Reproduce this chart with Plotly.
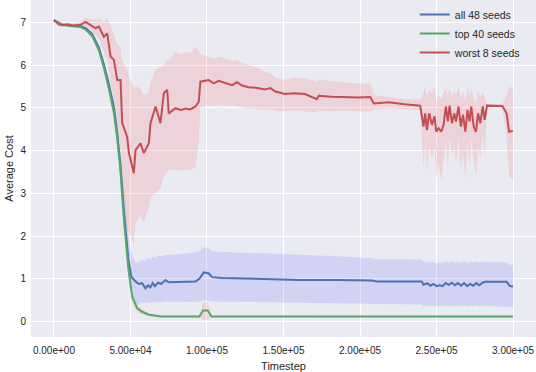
import plotly.graph_objects as go

# ── data (timesteps in thousands) ─────────────────────────────────────────────
red_x = [0, 3, 6, 9, 12, 15, 17.4, 20.7, 24, 27.2, 29.4, 32.6, 34.8, 37, 39.2, 41.3,
         43.5, 44.6, 47.8, 49, 52.2, 53.3, 56.6, 58.7, 62, 63.1, 66.4, 69.6, 71.8, 74,
         75, 79.4, 83, 86, 89, 92.5, 94.6, 95.7, 101, 104.4, 107.7, 112, 116.4, 119.6,
         123, 127.3, 132, 138, 141.4, 144.7, 151, 157, 164, 171.8, 173, 181.6, 190, 199,
         206.7, 209, 218.7, 229, 239.3,
         241.5, 242.6, 243.7, 245.2, 247.0, 248.7, 249.8, 251.3, 253.1, 254.6, 256.1,
         257.4, 258.5, 260.1, 261.6, 262.7, 264.4, 265.9, 267.3, 268.8, 270.3, 271.6,
         272.7, 274.3, 275.8, 277.1, 278.6, 280.2, 281.5, 283.0,
         288, 293, 295.8, 297.4, 300]
red_mean = [7.05, 6.95, 6.93, 6.95, 6.92, 6.94, 6.94, 7.01, 6.94, 6.86, 6.90, 6.66, 6.74,
            6.20, 6.12, 5.65, 5.65, 4.64, 4.33, 3.94, 3.47, 4.01, 4.17, 3.94, 4.17, 4.64,
            5.03, 4.64, 5.34, 5.42, 4.87, 4.99, 4.95, 4.98, 4.96, 5.03, 5.14, 5.61, 5.65,
            5.57, 5.63, 5.58, 5.53, 5.60, 5.52, 5.48, 5.47, 5.43, 5.46, 5.38, 5.32, 5.34,
            5.32, 5.20, 5.28, 5.26, 5.25, 5.24, 5.25, 5.10, 5.13, 5.08, 5.05,
            4.56, 4.87, 4.48, 4.87, 4.60, 4.80, 4.44, 4.52, 4.44, 4.60, 5.03, 4.68, 5.05,
            4.64, 4.87, 4.68, 5.03, 4.56, 4.84, 4.44, 4.95, 4.68, 5.03, 4.56, 4.44, 4.87,
            4.64, 5.03, 4.72, 5.05,
            5.05, 5.04, 4.87, 4.44, 4.46]
red_hi = [7.08, 7.00, 6.98, 7.00, 6.97, 7.00, 7.02, 7.10, 7.08, 7.05, 7.10, 7.00, 7.12,
          6.90, 6.70, 6.50, 6.40, 6.10, 5.90, 5.73, 5.45, 5.50, 5.45, 5.30, 5.35, 5.60,
          5.89, 5.95, 6.00, 6.12, 6.10, 6.31, 6.25, 6.30, 6.28, 6.43, 6.35, 6.25, 6.20,
          6.15, 6.20, 6.15, 6.10, 6.12, 6.05, 6.00, 5.95, 5.85, 5.80, 5.70, 5.65, 5.70,
          5.69, 5.62, 5.66, 5.62, 5.60, 5.57, 5.57, 5.30, 5.25, 5.20, 5.20,
          5.35, 5.50, 5.20, 5.45, 5.30, 5.50, 5.15, 5.30, 5.20, 5.35, 5.45, 5.30, 5.48,
          5.25, 5.40, 5.30, 5.50, 5.20, 5.40, 5.15, 5.50, 5.30, 5.45, 5.20, 5.10, 5.40,
          5.25, 5.35, 5.20, 5.08,
          5.08, 5.07, 5.30, 5.50, 5.45]
red_lo = [7.02, 6.90, 6.88, 6.90, 6.87, 6.88, 6.87, 6.90, 6.82, 6.70, 6.60, 6.30, 6.10,
          5.60, 5.20, 4.60, 4.00, 3.40, 2.20, 2.10, 1.80, 2.30, 2.50, 2.30, 2.69, 2.90,
          3.00, 3.10, 3.39, 3.50, 3.55, 3.55, 3.53, 3.56, 3.55, 3.60, 4.20, 5.00, 5.07,
          5.05, 5.07, 5.05, 5.06, 5.05, 5.00, 4.99, 4.97, 4.95, 4.97, 4.93, 4.92, 4.94,
          4.91, 4.90, 4.93, 4.92, 4.93, 4.92, 4.91, 4.95, 4.99, 4.97, 4.95,
          3.60, 4.20, 3.50, 4.10, 3.80, 4.10, 3.35, 3.70, 3.30, 3.80, 4.20, 3.60, 4.30,
          3.90, 4.10, 3.70, 4.30, 3.50, 4.00, 3.30, 4.20, 3.60, 4.30, 3.70, 3.40, 4.10,
          3.80, 4.40, 3.90, 5.02,
          5.02, 5.00, 4.30, 3.40, 3.30]

blue_x = [0, 5, 10, 15, 18, 21, 25, 29.4, 32.6, 35.9, 39.2, 41.3, 43.5, 45.7, 48.5, 50.5,
          53.3, 55.5, 57.6, 59.8, 61.5, 63, 64.5, 66, 68, 70, 72.9, 75, 80, 86, 92.5, 95,
          97.9, 101, 103.4, 110, 130, 160, 185, 207.8, 211, 240.4,
          241.5, 244, 246, 248, 250, 252, 254, 256, 258, 260, 262, 264, 266, 268, 270,
          272, 274, 276, 278, 280,
          281.8, 295.8, 298, 300]
blue_mean = [7.05, 6.95, 6.93, 6.92, 6.90, 6.85, 6.72, 6.40, 6.02, 5.55, 5.00, 4.42, 3.65,
             2.60, 1.50, 1.05, 0.94, 0.88, 0.90, 0.78, 0.85, 0.80, 0.90, 0.83, 0.91, 0.88,
             0.97, 0.92, 0.93, 0.93, 0.94, 1.00, 1.15, 1.13, 1.04, 1.02, 1.00, 0.975, 0.97,
             0.96, 0.94, 0.935,
             0.86, 0.90, 0.84, 0.88, 0.83, 0.85, 0.83, 0.90, 0.86, 0.91, 0.85, 0.90, 0.84,
             0.90, 0.83, 0.88, 0.84, 0.90, 0.85, 0.91,
             0.93, 0.93, 0.83, 0.82]
blue_hi = [7.08, 6.98, 6.96, 6.95, 6.93, 6.89, 6.77, 6.47, 6.10, 5.65, 5.15, 4.65, 3.95,
           3.10, 2.10, 1.60, 1.37, 1.40, 1.45, 1.42, 1.50, 1.45, 1.52, 1.48, 1.55, 1.52,
           1.56, 1.55, 1.57, 1.60, 1.62, 1.66, 1.74, 1.72, 1.65, 1.63, 1.60, 1.57, 1.53,
           1.48, 1.46, 1.45,
           1.38, 1.40, 1.37, 1.40, 1.36, 1.39, 1.37, 1.41, 1.38, 1.41, 1.37, 1.40, 1.37,
           1.41, 1.36, 1.40, 1.38, 1.41, 1.38, 1.40,
           1.40, 1.38, 1.33, 1.32]
blue_lo = [7.02, 6.92, 6.90, 6.89, 6.87, 6.80, 6.65, 6.30, 5.90, 5.40, 4.80, 4.20, 3.40,
           2.30, 1.10, 0.55, 0.38, 0.42, 0.45, 0.43, 0.45, 0.44, 0.46, 0.44, 0.46, 0.45,
           0.47, 0.46, 0.46, 0.46, 0.46, 0.47, 0.50, 0.49, 0.47, 0.47, 0.46, 0.44, 0.42,
           0.41, 0.41, 0.40,
           0.36, 0.38, 0.36, 0.37, 0.35, 0.37, 0.36, 0.38, 0.36, 0.37, 0.35, 0.37, 0.36,
           0.38, 0.35, 0.37, 0.36, 0.38, 0.36, 0.37,
           0.37, 0.35, 0.34, 0.33]

green_x = [0, 5, 10, 15, 18, 21, 25, 29.4, 32.6, 35.9, 39.2, 41.3, 43.5, 45.7, 48.5, 51.1,
           54.4, 57.6, 62, 70, 95, 97.5, 100.5, 103, 300]
green_mean = [7.05, 6.94, 6.92, 6.90, 6.88, 6.82, 6.68, 6.34, 5.94, 5.45, 4.88, 4.30, 3.50,
              2.40, 1.29, 0.58, 0.31, 0.23, 0.16, 0.12, 0.12, 0.26, 0.26, 0.12, 0.117]
green_hi = [7.07, 6.96, 6.94, 6.92, 6.90, 6.85, 6.72, 6.40, 6.02, 5.55, 5.00, 4.45, 3.70,
            2.65, 1.50, 0.72, 0.40, 0.30, 0.19, 0.14, 0.14, 0.45, 0.45, 0.14, 0.13]
green_lo = [7.03, 6.92, 6.90, 6.88, 6.86, 6.79, 6.64, 6.28, 5.86, 5.35, 4.76, 4.15, 3.30,
            2.15, 1.08, 0.45, 0.22, 0.16, 0.13, 0.10, 0.10, 0.04, 0.04, 0.10, 0.10]

x_ticks = [0, 50000, 100000, 150000, 200000, 250000, 300000]
x_tick_labels = ["0.00e+00", "5.00e+04", "1.00e+05", "1.50e+05", "2.00e+05", "2.50e+05", "3.00e+05"]

SERIES = [
    ("all 48 seeds", blue_x, blue_mean, blue_hi, blue_lo, "#4C72B0", "rgba(0,0,255,0.1)"),
    ("top 40 seeds", green_x, green_mean, green_hi, green_lo, "#55A868", "rgba(255,0,0,0.1)"),
    ("worst 8 seeds", red_x, red_mean, red_hi, red_lo, "#C44E52", "rgba(255,0,0,0.1)"),
]

fig = go.Figure()

# shaded bands first
for name, xs, mean, hi, lo, col, fillcol in SERIES:
    xx = [v * 1000 for v in xs]
    fig.add_trace(go.Scatter(
        x=xx + xx[::-1], y=hi + lo[::-1],
        fill="toself", fillcolor=fillcol, line=dict(width=0),
        mode="lines", showlegend=False, hoverinfo="skip",
    ))

# mean lines on top
for name, xs, mean, hi, lo, col, fillcol in SERIES:
    fig.add_trace(go.Scatter(
        x=[v * 1000 for v in xs], y=mean,
        mode="lines", name=name, line=dict(color=col, width=2),
    ))

fig.update_layout(
    width=536, height=372,
    margin=dict(l=31, r=0, t=0, b=35),
    plot_bgcolor="#EAEAF2", paper_bgcolor="white",
    font=dict(family="Liberation Sans, Arial, sans-serif", size=10, color="#262626"),
    legend=dict(
        x=0.76, y=1.0, xanchor="left", yanchor="top",
        bgcolor="rgba(0,0,0,0)", font=dict(size=10.5), tracegroupgap=0,
    ),
    xaxis=dict(
        range=[-15000, 315000], tickvals=x_ticks, ticktext=x_tick_labels,
        showgrid=True, gridcolor="white", gridwidth=1.3, zeroline=False,
        ticks="", showline=False, automargin=False, ticklabelstandoff=6,
        title=dict(text="Timestep", font=dict(size=11), standoff=12),
    ),
    yaxis=dict(
        range=[-0.36, 7.52], tickvals=[0, 1, 2, 3, 4, 5, 6, 7],
        showgrid=True, gridcolor="white", gridwidth=1.3, zeroline=False,
        ticks="", showline=False, automargin=False, ticklabelstandoff=4,
        title=dict(text="Average Cost", font=dict(size=11), standoff=4),
    ),
)

fig.write_html("out.html", config={"displayModeBar": False},
               post_script="document.body.style.margin='0';")
